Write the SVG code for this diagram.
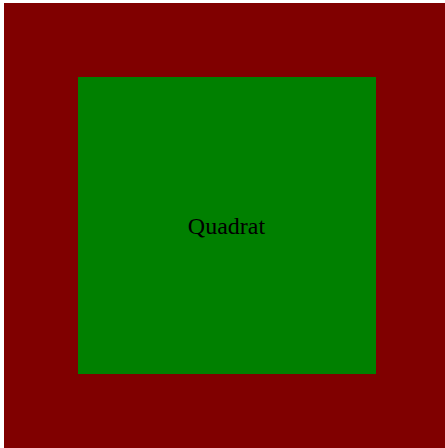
<svg xmlns="http://www.w3.org/2000/svg" width="445" height="448" viewBox="0 0 445 448">
<style>
.lbl{font-family:"Liberation Serif","Times New Roman",serif;font-size:24px;fill:#000000}
</style>
<rect x="0" y="0" width="445" height="448" fill="#ffffff"/>
<g id="outer"><rect x="4" y="3" width="441" height="445" fill="#800000"/></g>
<g id="quadrat">
<rect x="78" y="77" width="298" height="297" fill="#008000"/>
<text class="lbl" x="226.5" y="234" text-anchor="middle">Quadrat</text>
</g>
</svg>
